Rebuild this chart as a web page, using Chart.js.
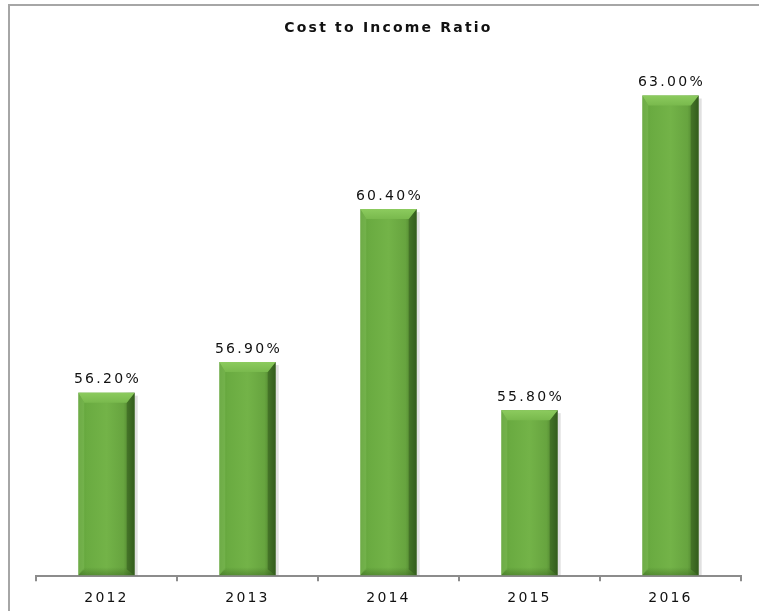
<!DOCTYPE html>
<html>
<head>
<meta charset="utf-8">
<script src="https://cdn.jsdelivr.net/npm/chart.js@4/dist/chart.umd.min.js"></script>
<style>
  html, body { margin: 0; padding: 0; background: #fff; overflow: hidden; }
  canvas { display: block; }
</style>
</head>
<body>
<canvas id="c" width="759" height="611"></canvas>
<script>
const categories = ['2012', '2013', '2014', '2015', '2016'];
const ratioValues = [56.2, 56.9, 60.4, 55.8, 63.0];
const chartTitle = 'Cost to Income Ratio';

const framePlugin = {
  id: 'frame',
  beforeDraw(chart) {
    const ctx = chart.ctx;
    ctx.save();
    ctx.strokeStyle = '#a6a6a6';
    ctx.lineWidth = 2;
    ctx.beginPath();
    ctx.moveTo(9, 611);
    ctx.lineTo(9, 5);
    ctx.lineTo(759, 5);
    ctx.stroke();
    ctx.restore();
    ctx.letterSpacing = '2.2px';
  },
  afterDraw(chart) {
    chart.ctx.letterSpacing = '0px';
  }
};

const bevelPlugin = {
  id: 'bevel',
  afterDatasetsDraw(chart) {
    const ctx = chart.ctx;
    const meta = chart.getDatasetMeta(0);
    const bottom = chart.chartArea.bottom;
    meta.data.forEach((bar, i) => {
      const w = bar.width;
      const l = bar.x - w / 2, r = bar.x + w / 2;
      const t = bar.y, b = Math.min(bar.base, bottom) - 1;
      const bv = 10;
      ctx.save();
      ctx.fillStyle = 'rgba(0,0,0,0.12)';
      ctx.fillRect(r, t + 3, 3, b - t - 3);
      const g = ctx.createLinearGradient(l, 0, r, 0);
      g.addColorStop(0, '#5e9c38');
      g.addColorStop(0.15, '#6aab41');
      g.addColorStop(0.5, '#73b348');
      g.addColorStop(0.8, '#67a43f');
      g.addColorStop(1, '#3f6d24');
      ctx.fillStyle = g;
      ctx.fillRect(l, t, w, b - t);
      ctx.fillStyle = 'rgba(140,200,100,0.35)';
      ctx.beginPath();
      ctx.moveTo(l, t); ctx.lineTo(l + bv * 0.6, t + bv); ctx.lineTo(l + bv * 0.6, b - bv * 0.6); ctx.lineTo(l, b);
      ctx.closePath(); ctx.fill();
      ctx.fillStyle = 'rgba(30,60,15,0.35)';
      ctx.beginPath();
      ctx.moveTo(r, t); ctx.lineTo(r - bv * 0.8, t + bv); ctx.lineTo(r - bv * 0.8, b - bv * 0.6); ctx.lineTo(r, b);
      ctx.closePath(); ctx.fill();
      const tg = ctx.createLinearGradient(0, t, 0, t + bv);
      tg.addColorStop(0, '#8ccb5e');
      tg.addColorStop(1, '#79b94d');
      ctx.fillStyle = tg;
      ctx.beginPath();
      ctx.moveTo(l, t); ctx.lineTo(r, t); ctx.lineTo(r - bv * 0.8, t + bv); ctx.lineTo(l + bv * 0.6, t + bv);
      ctx.closePath(); ctx.fill();
      const bg = ctx.createLinearGradient(0, b - bv * 0.8, 0, b);
      bg.addColorStop(0, 'rgba(40,80,20,0.0)');
      bg.addColorStop(1, 'rgba(40,80,20,0.35)');
      ctx.fillStyle = bg;
      ctx.beginPath();
      ctx.moveTo(l, b); ctx.lineTo(r, b); ctx.lineTo(r - bv * 0.8, b - bv * 0.8); ctx.lineTo(l + bv * 0.6, b - bv * 0.8);
      ctx.closePath(); ctx.fill();
      ctx.fillStyle = '#111';
      ctx.font = '14px "DejaVu Sans", sans-serif';
      ctx.letterSpacing = '2.3px';
      ctx.textAlign = 'center';
      ctx.textBaseline = 'bottom';
      ctx.fillText(ratioValues[i].toFixed(2) + '%', bar.x + 1, t - 6);
      ctx.restore();
    });
  }
};

new Chart(document.getElementById('c'), {
  type: 'bar',
  data: {
    labels: categories,
    datasets: [{
      data: ratioValues,
      backgroundColor: 'rgba(0,0,0,0)',
      borderWidth: 0,
      barPercentage: 0.4,
      categoryPercentage: 1.0
    }]
  },
  options: {
    responsive: false,
    animation: false,
    events: [],
    layout: { padding: { left: 36, right: 18, top: 0, bottom: -5 } },
    plugins: {
      legend: { display: false },
      tooltip: { enabled: false },
      title: {
        display: true,
        text: chartTitle,
        color: '#111',
        font: { family: '"DejaVu Sans", sans-serif', size: 14, weight: 'bold', lineHeight: 1.2 },
        padding: { top: 20, bottom: 15 }
      }
    },
    scales: {
      y: { display: false, min: 52, max: 64 },
      x: {
        offset: true,
        border: { display: true, color: '#8c8c8c', width: 2 },
        grid: { display: true, drawOnChartArea: false, drawTicks: true, tickLength: 5, color: '#8c8c8c', lineWidth: 2, offset: true },
        ticks: { color: '#111', font: { family: '"DejaVu Sans", sans-serif', size: 14 }, padding: 9 }
      }
    }
  },
  plugins: [framePlugin, bevelPlugin]
});
</script>
</body>
</html>
